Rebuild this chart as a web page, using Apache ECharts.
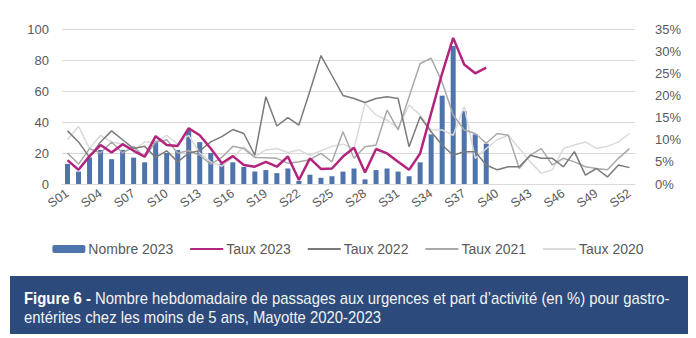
<!DOCTYPE html>
<html>
<head>
<meta charset="utf-8">
<script src="https://cdn.jsdelivr.net/npm/echarts@6/dist/echarts.min.js"></script>
<style>
  html, body { margin: 0; padding: 0; background: #ffffff; }
  #chart { width: 696px; height: 338px; }
</style>
</head>
<body>
<div id="chart"></div>
<script>
// Semaines épidémiologiques
const weeks = ['S01','S02','S03','S04','S05','S06','S07','S08','S09','S10','S11','S12','S13',
  'S14','S15','S16','S17','S18','S19','S20','S21','S22','S23','S24','S25','S26',
  'S27','S28','S29','S30','S31','S32','S33','S34','S35','S36','S37','S38','S39',
  'S40','S41','S42','S43','S44','S45','S46','S47','S48','S49','S50','S51','S52'];

// Nombre de passages aux urgences, 2023 (S01 à S39)
const nombre2023 = [13, 8, 17, 22, 16, 22, 17, 14, 28, 20, 22, 35, 27, 20, 13, 14, 11, 8, 9,
  7, 10, 2, 6, 4, 5, 8, 10, 3, 9, 10, 8, 5, 14, 32, 57, 89, 47, 32, 26];

// Part d'activité (%) par année
const taux2023 = [5.4, 3.2, 6.3, 8.8, 7.1, 9.0, 7.5, 6.2, 10.8, 8.8, 8.6, 12.6, 11.0, 8.0, 4.7, 6.3, 4.3, 3.9, 5.0,
  3.9, 6.2, 0.9, 5.8, 3.4, 3.5, 6.2, 8.2, 2.6, 7.9, 6.9, 5.0, 3.2, 6.9, 16, 25, 33, 27, 25, 26.3];

const taux2022 = [12, 9.5, 6, 9.5, 12, 10, 8, 8.5, 6, 7.5, 5, 7, 7.5, 9.5, 10.7, 12.3, 11.4, 6.5, 19.7,
  13.1, 15, 13.3, 21, 29, 24.5, 20, 19.3, 18.4, 19.3, 19.7, 19.3, 8.4, 15.2, 11.8, 8.8, 6.5, 7.3, 7.3, 4.3,
  3.2, 3.9, 3.9, 6.5, 5.8, 5.8, 3.9, 7.3, 2, 3.5, 1.6, 4.3, 3.7];

const taux2021 = [7, 4.5, 8, 7, 9.5, 7, 8.5, 6, 9.5, 10, 7, 7.5, 6.5, 4.5, 6, 8.5, 8, 6, 5.9,
  5.8, 4.7, 5, 5.5, 6.9, 5, 11.8, 5.8, 8.4, 8.8, 16.7, 12.2, 19.7, 27.2, 28.4, 23, 15.6, 12.2, 11.4, 9.2,
  11.4, 11, 3.5, 6.5, 8, 4.3, 5.8, 5, 3.9, 3.5, 3.2, 5.8, 8];

const taux2020 = [10, 13, 8, 11, 9.5, 9, 7.5, 9.5, 9.5, 11, 9, 11, 7, 5, 4, 6, 8.4, 6.2, 7.7,
  8, 7.1, 7.7, 6.5, 7.5, 8.5, 9, 8, 18.2, 15.6, 14.4, 12.6, 17.8, 15.6, 12.2, 12.2, 11, 17.5, 5.8, 8,
  10, 11, 8, 5, 2.4, 3.2, 8, 8.8, 9.5, 8, 8.5, 9.5, 11.4];

const leftTicks = { min: 0, max: 100, step: 20 };
const rightTicks = { min: 0, max: 35, step: 5 };

const captionBold = 'Figure 6 - ';
const captionLine1 = 'Nombre hebdomadaire de passages aux urgences et part d\u2019activité (en %) pour gastro-';
const captionLine2 = 'entérites chez les moins de 5 ans, Mayotte 2020-2023';

const FONT = "'Liberation Sans', Arial, sans-serif";
const labelGray = '#595959';

// Line entries in the legend show only the stroke, without a marker
const lineLegend = (name) => ({ name: name, itemStyle: { opacity: 0 } });

const chart = echarts.init(document.getElementById('chart'), null, { renderer: 'svg' });

chart.setOption({
  animation: false,
  textStyle: { fontFamily: FONT },
  grid: { left: 62, right: 61, top: 29, bottom: 154, containLabel: false },
  legend: {
    top: 237,
    left: 'center',
    itemWidth: 33,
    itemHeight: 8,
    itemGap: 16,
    textStyle: { fontFamily: FONT, fontSize: 14, color: labelGray, padding: [0, 0, 0, -2] },
    data: [
      'Nombre 2023',
      lineLegend('Taux 2023'),
      lineLegend('Taux 2022'),
      lineLegend('Taux 2021'),
      lineLegend('Taux 2020')
    ]
  },
  xAxis: {
    type: 'category',
    data: weeks,
    boundaryGap: true,
    axisTick: { show: false },
    axisLine: { lineStyle: { color: '#d9d9d9', width: 1 } },
    axisLabel: {
      interval: 2,
      rotate: 35,
      margin: 8,
      fontSize: 12.5,
      color: labelGray,
      fontFamily: FONT
    }
  },
  yAxis: [
    {
      type: 'value',
      min: leftTicks.min,
      max: leftTicks.max,
      interval: leftTicks.step,
      axisLine: { show: false },
      axisTick: { show: false },
      axisLabel: { fontSize: 13, color: labelGray, margin: 13 },
      splitLine: { lineStyle: { color: '#d9d9d9', width: 1 } }
    },
    {
      type: 'value',
      min: rightTicks.min,
      max: rightTicks.max,
      interval: rightTicks.step,
      position: 'right',
      axisLine: { show: false },
      axisTick: { show: false },
      axisLabel: { fontSize: 13, color: labelGray, margin: 20, formatter: '{value}%' },
      splitLine: { show: false }
    }
  ],
  series: [
    {
      name: 'Nombre 2023',
      type: 'bar',
      yAxisIndex: 0,
      data: nombre2023,
      barWidth: 5,
      itemStyle: { color: '#4f73ab' },
      z: 1
    },
    {
      name: 'Taux 2020',
      type: 'line',
      yAxisIndex: 1,
      data: taux2020,
      symbol: 'none',
      lineStyle: { color: '#dadada', width: 1.5 },
      itemStyle: { color: '#dadada' },
      z: 2
    },
    {
      name: 'Taux 2021',
      type: 'line',
      yAxisIndex: 1,
      data: taux2021,
      symbol: 'none',
      lineStyle: { color: '#a9a9a9', width: 1.5 },
      itemStyle: { color: '#a9a9a9' },
      z: 3
    },
    {
      name: 'Taux 2022',
      type: 'line',
      yAxisIndex: 1,
      data: taux2022,
      symbol: 'none',
      lineStyle: { color: '#7a7a7a', width: 1.5 },
      itemStyle: { color: '#7a7a7a' },
      z: 4
    },
    {
      name: 'Taux 2023',
      type: 'line',
      yAxisIndex: 1,
      data: taux2023,
      symbol: 'none',
      lineStyle: { color: '#b3247e', width: 2.5 },
      itemStyle: { color: '#b3247e' },
      z: 5
    }
  ],
  graphic: [
    {
      type: 'rect',
      left: 10,
      top: 276,
      shape: { width: 678, height: 58 },
      style: { fill: '#2c4a7b' },
      silent: true
    },
    {
      type: 'text',
      x: 24,
      y: 290,
      scaleX: 0.93,
      style: {
        text: '{b|' + captionBold + '}{r|' + captionLine1 + '}',
        rich: {
          b: { fontFamily: FONT, fontWeight: 'bold', fontSize: 16, fill: '#ffffff' },
          r: { fontFamily: FONT, fontSize: 16, fill: '#f2f2f2' }
        }
      },
      silent: true
    },
    {
      type: 'text',
      x: 24,
      y: 309,
      scaleX: 0.93,
      style: {
        text: captionLine2,
        fontFamily: FONT,
        fontSize: 16,
        fill: '#f2f2f2'
      },
      silent: true
    }
  ]
});
</script>
</body>
</html>
